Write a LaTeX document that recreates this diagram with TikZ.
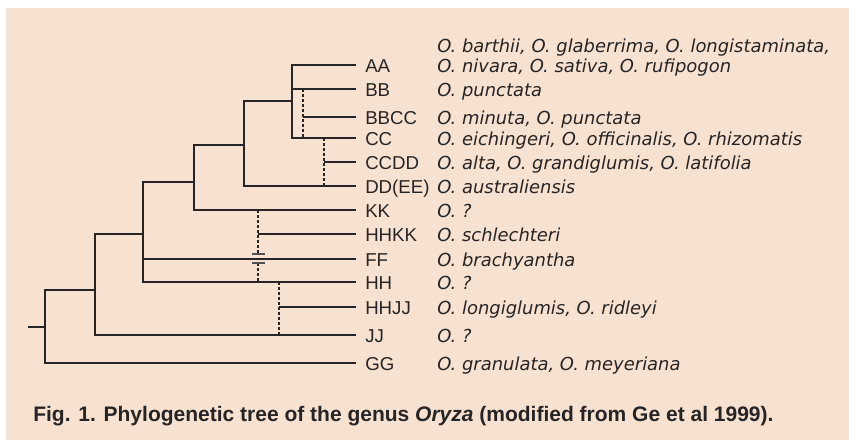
\documentclass[tikz,border=0pt]{standalone}
\usepackage{fontspec}
\setmainfont{DejaVu Sans}
\newfontfamily\capfont{Liberation Sans}
\definecolor{bg}{RGB}{247,226,209}
\definecolor{ink}{RGB}{38,36,36}
\begin{document}
\begin{tikzpicture}[x=0.75pt,y=-0.75pt,
  branch/.style={draw=ink, line width=1.4pt},
  dotbranch/.style={draw=ink, line width=1.1pt, dash pattern=on 2.25pt off 1.5pt},
  tick/.style={draw=ink!80, line width=1.2pt},
  genome/.style={anchor=base west, inner sep=0pt, text=ink, font=\capfont\fontsize{14}{16}\selectfont},
  species/.style={anchor=base west, inner sep=0pt, text=ink, font=\fontsize{13.45}{16}\selectfont\itshape},
  caption/.style={anchor=base west, inner sep=0pt, text=ink, font=\capfont\bfseries\fontsize{15.75}{18}\selectfont}]
\useasboundingbox (0,0) rectangle (849,440);
\fill[bg] (6,8) rectangle (849,440);

% tips
\foreach \n/\y in {AA/65,BB/89,BBCC/117,CC/138,CCDD/162,DD/186,KK/210,HHKK/234,FF/259,HH/282,HHJJ/307,JJ/335,GG/363}
  \coordinate (t\n) at (356,\y);

% junctions
\coordinate (a1) at (292,65);
\coordinate (b1) at (291,89);
\coordinate (c1) at (292,138);
\coordinate (m1) at (292,101);
\coordinate (d1t) at (303,89);
\coordinate (d1m) at (303,117);
\coordinate (d1b) at (303,138);
\coordinate (d2t) at (324,138);
\coordinate (d2m) at (324,162);
\coordinate (d2b) at (324,186);
\coordinate (n2t) at (244,101);
\coordinate (n2m) at (244,145);
\coordinate (n2b) at (244,186);
\coordinate (n3t) at (194,145);
\coordinate (n3m) at (194,182);
\coordinate (n3b) at (194,210);
\coordinate (n4t) at (143,182);
\coordinate (n4m) at (143,234);
\coordinate (n4f) at (143,259);
\coordinate (n4b) at (143,282);
\coordinate (d3t) at (258,210);
\coordinate (d3m) at (258,234);
\coordinate (d3u) at (258,254);
\coordinate (d3l) at (258,263);
\coordinate (d3b) at (258,282);
\coordinate (d4t) at (279,282);
\coordinate (d4m) at (279,307);
\coordinate (d4b) at (279,335);
\coordinate (n5t) at (95,234);
\coordinate (n5m) at (95,290);
\coordinate (n5b) at (95,335);
\coordinate (n6t) at (45,290);
\coordinate (n6m) at (45,327);
\coordinate (n6b) at (45,363);
\coordinate (root) at (28,327);

% solid branches
\draw[branch] (tAA) -- (a1) -- (c1) -- (tCC);
\draw[branch] (b1) -- (tBB);
\draw[branch] (m1) -- (n2t) -- (n2b) -- (tDD);
\draw[branch] (n2m) -- (n3t) -- (n3b) -- (tKK);
\draw[branch] (n3m) -- (n4t) -- (n4b) -- (tHH);
\draw[branch] (n4f) -- (tFF);
\draw[branch] (n4m) -- (n5t) -- (n5b) -- (tJJ);
\draw[branch] (n5m) -- (n6t) -- (n6b) -- (tGG);
\draw[branch] (root) -- (n6m);
\draw[branch] (d1m) -- (tBBCC);
\draw[branch] (d2m) -- (tCCDD);
\draw[branch] (d3m) -- (tHHKK);
\draw[branch] (d4m) -- (tHHJJ);

% dotted (hybrid) links
\draw[dotbranch] (d1t) -- (d1b);
\draw[dotbranch] (d2t) -- (d2b);
\draw[dotbranch] (d3t) -- (d3u);
\draw[dotbranch] (d3l) -- (d3b);
\draw[dotbranch] (d4t) -- (d4b);
\draw[tick] ([xshift=-4.5pt]d3u) -- ([xshift=5.25pt]d3u);
\draw[tick] ([xshift=-4.5pt]d3l) -- ([xshift=5.25pt]d3l);

% genome labels
\foreach \n/\t/\y in {AA/AA/65,BB/BB/89,BBCC/BBCC/117,CC/CC/138,CCDD/CCDD/162,DD/DD(EE)/186,KK/KK/210,HHKK/HHKK/234,FF/FF/259,HH/HH/282,HHJJ/HHJJ/307,JJ/JJ/335,GG/GG/363}
  \node[genome] (g\n) at (365,\y+7) {\t};

% species
\node[species] (sAA1) at (437,52.5) {O. barthii, O. glaberrima, O. longistaminata,};
\node[species] (sAA) at (437,72) {O. nivara, O. sativa, O. rufipogon};
\node[species] (sBB) at (437,96) {O. punctata};
\node[species] (sBBCC) at (437,124) {O. minuta, O. punctata};
\node[species] (sCC) at (437,145) {O. eichingeri, O. officinalis, O. rhizomatis};
\node[species] (sCCDD) at (437,169) {O. alta, O. grandiglumis, O. latifolia};
\node[species] (sDD) at (437,193) {O. australiensis};
\node[species] (sKK) at (437,217) {O. ?};
\node[species] (sHHKK) at (437,241) {O. schlechteri};
\node[species] (sFF) at (437,266) {O. brachyantha};
\node[species] (sHH) at (437,289) {O. ?};
\node[species] (sHHJJ) at (437,314) {O. longiglumis, O. ridleyi};
\node[species] (sJJ) at (437,342) {O. ?};
\node[species] (sGG) at (437,370) {O. granulata, O. meyeriana};

% caption
\node[caption] (cap) at (33,421) {Fig. 1. Phylogenetic tree of the genus \textit{Oryza} (modified from Ge et al 1999).};
\end{tikzpicture}
\end{document}
